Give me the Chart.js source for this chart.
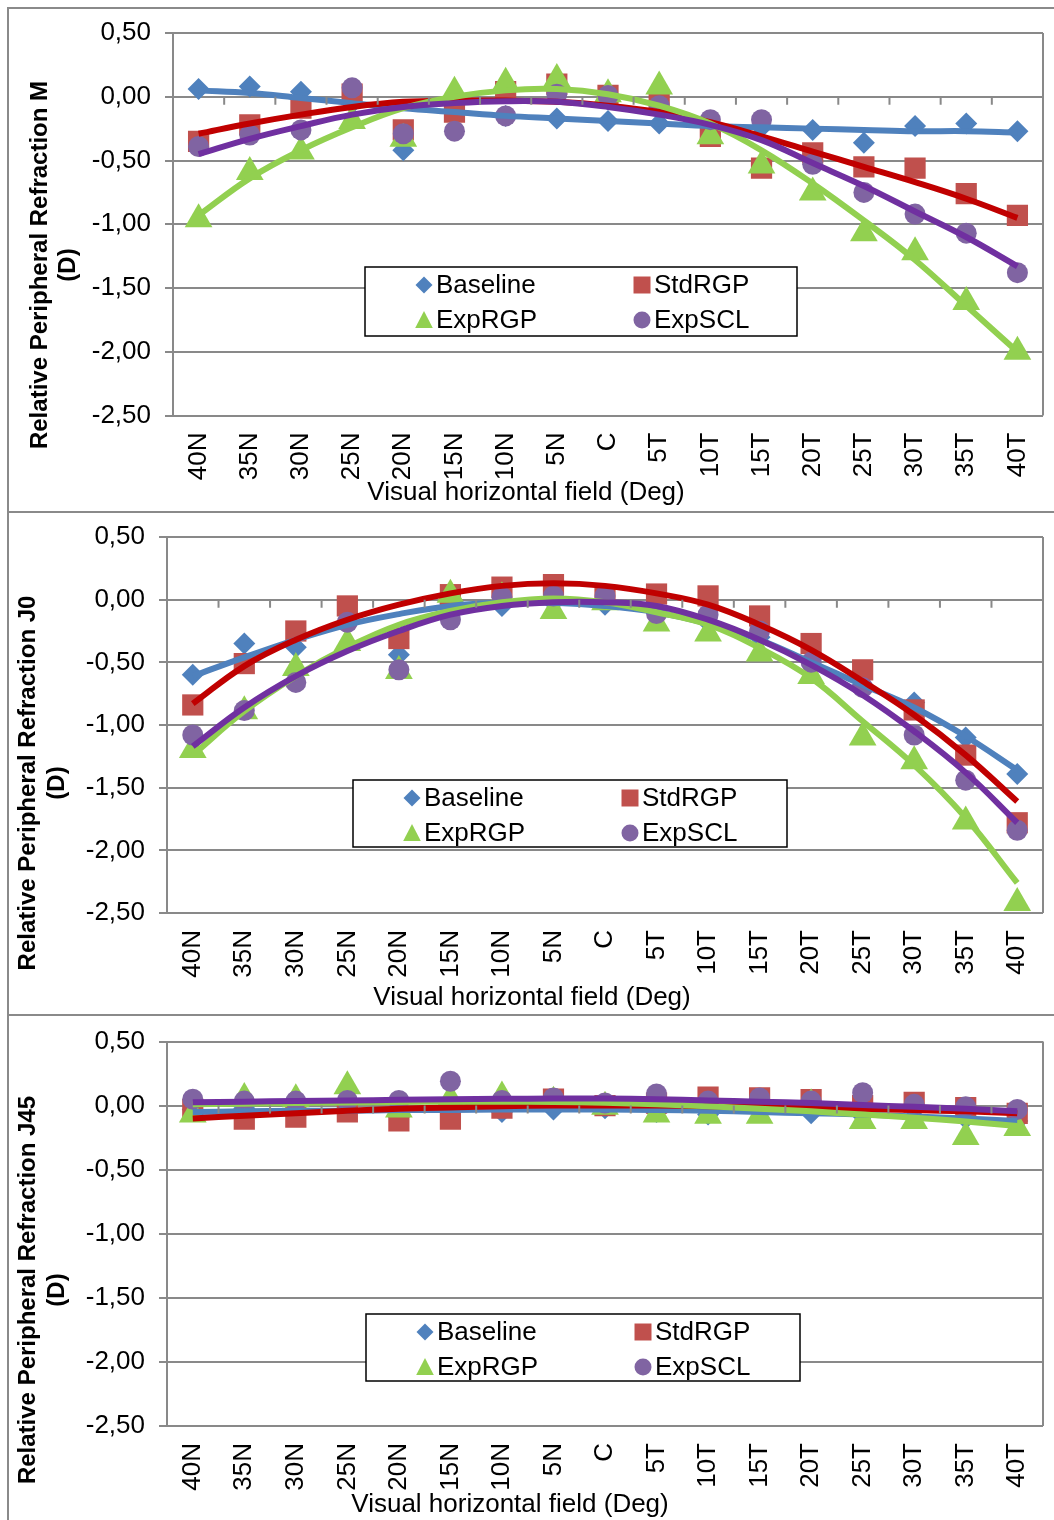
<!DOCTYPE html>
<html>
<head>
<meta charset="utf-8">
<script src="https://cdn.jsdelivr.net/npm/chart.js@4.4.0/dist/chart.umd.min.js"></script>
<style>
  html, body { margin: 0; padding: 0; background: #fff; }
  body { width: 1054px; height: 1520px; position: relative; overflow: hidden; }
  .panel { position: absolute; left: 7px; width: 1100px; border-top: 2px solid #8a8a8a; border-left: 2px solid #8a8a8a; box-sizing: border-box; }
  canvas { position: absolute; left: 0; }
</style>
</head>
<body>
<div class="panel" style="top:7px;height:505px;"></div>
<div class="panel" style="top:511px;height:504px;"></div>
<div class="panel" style="top:1014px;height:520px;"></div>
<canvas id="chartM" width="1059" height="504" style="top:7px"></canvas>
<canvas id="chartJ0" width="1059" height="503" style="top:511px"></canvas>
<canvas id="chartJ45" width="1059" height="506" style="top:1014px"></canvas>
<script>
const fields = ['40N','35N','30N','25N','20N','15N','10N','5N','C','5T','10T','15T','20T','25T','30T','35T','40T'];
const seriesNames = ['Baseline', 'StdRGP', 'ExpRGP', 'ExpSCL'];

// M
const mBaseline = [0.06, 0.08, 0.04, -0.05, -0.42, -0.13, -0.15, -0.17, -0.19, -0.21, -0.22, -0.24, -0.26, -0.36, -0.23, -0.21, -0.27];
const mStdRGP   = [-0.35, -0.22, -0.09, 0.02, -0.26, -0.12, 0.04, 0.10, 0.01, -0.05, -0.31, -0.56, -0.44, -0.55, -0.56, -0.76, -0.93];
const mExpRGP   = [-0.96, -0.59, -0.43, -0.19, -0.33, 0.04, 0.11, 0.14, 0.02, 0.08, -0.31, -0.54, -0.75, -1.07, -1.22, -1.61, -2.00];
const mExpSCL   = [-0.39, -0.30, -0.26, 0.07, -0.29, -0.27, -0.15, 0.02, 0.01, -0.07, -0.18, -0.18, -0.53, -0.75, -0.92, -1.07, -1.38];
const mBaselineFit = [0.05, 0.03, -0.01, -0.05, -0.09, -0.12, -0.15, -0.17, -0.19, -0.21, -0.23, -0.24, -0.25, -0.26, -0.27, -0.27, -0.28];
const mStdRGPFit   = [-0.29, -0.21, -0.14, -0.08, -0.04, -0.03, -0.03, -0.04, -0.07, -0.12, -0.20, -0.31, -0.43, -0.55, -0.67, -0.80, -0.95];
const mExpRGPFit   = [-0.93, -0.64, -0.42, -0.24, -0.09, 0.00, 0.05, 0.06, 0.02, -0.07, -0.21, -0.42, -0.68, -0.97, -1.28, -1.64, -2.00];
const mExpSCLFit   = [-0.45, -0.33, -0.23, -0.14, -0.08, -0.05, -0.035, -0.04, -0.08, -0.14, -0.22, -0.34, -0.52, -0.70, -0.90, -1.10, -1.33];

// J0
const j0Baseline = [-0.60, -0.35, -0.38, -0.17, -0.44, -0.03, -0.05, -0.02, -0.04, -0.08, -0.18, -0.30, -0.48, -0.68, -0.82, -1.10, -1.39];
const j0StdRGP   = [-0.84, -0.51, -0.25, -0.05, -0.31, 0.04, 0.10, 0.12, 0.01, 0.045, 0.03, -0.13, -0.35, -0.56, -0.88, -1.24, -1.78];
const j0ExpRGP   = [-1.20, -0.89, -0.545, -0.345, -0.57, 0.04, 0.02, -0.09, -0.02, -0.19, -0.27, -0.43, -0.61, -1.10, -1.29, -1.77, -2.42];
const j0ExpSCL   = [-1.08, -0.885, -0.66, -0.18, -0.56, -0.16, 0.02, 0.03, 0.03, -0.11, -0.12, -0.25, -0.50, -0.70, -1.08, -1.44, -1.84];
const j0BaselineFit = [-0.61, -0.46, -0.32, -0.20, -0.115, -0.05, -0.025, -0.025, -0.05, -0.10, -0.19, -0.32, -0.50, -0.68, -0.86, -1.09, -1.36];
const j0StdRGPFit   = [-0.83, -0.53, -0.32, -0.16, -0.04, 0.05, 0.11, 0.13, 0.11, 0.05, -0.04, -0.20, -0.40, -0.65, -0.92, -1.24, -1.61];
const j0ExpRGPFit   = [-1.24, -0.89, -0.61, -0.38, -0.20, -0.09, -0.02, 0.01, -0.02, -0.10, -0.20, -0.385, -0.625, -0.97, -1.32, -1.74, -2.26];
const j0ExpSCLFit   = [-1.17, -0.86, -0.61, -0.41, -0.25, -0.12, -0.05, -0.02, -0.02, -0.05, -0.16, -0.32, -0.52, -0.76, -1.05, -1.38, -1.78];

// J45
const j45Baseline = [-0.03, -0.02, -0.03, -0.02, -0.09, -0.03, -0.05, -0.03, -0.02, -0.05, -0.07, -0.04, -0.06, -0.08, -0.09, -0.10, -0.12];
const j45StdRGP   = [-0.03, -0.105, -0.09, -0.05, -0.12, -0.105, -0.02, 0.05, 0.00, 0.02, 0.066, 0.06, 0.047, 0.00, 0.026, -0.016, -0.06];
const j45ExpRGP   = [-0.07, 0.06, 0.05, 0.15, -0.03, 0.05, 0.07, 0.03, -0.01, -0.07, -0.08, -0.08, 0.01, -0.12, -0.12, -0.245, -0.175];
const j45ExpSCL   = [0.05, 0.035, 0.035, 0.04, 0.04, 0.19, 0.04, 0.06, 0.02, 0.09, 0.035, 0.06, 0.035, 0.10, 0.01, -0.01, -0.03];
const j45BaselineFit = [-0.05, -0.045, -0.04, -0.04, -0.035, -0.035, -0.03, -0.03, -0.03, -0.035, -0.04, -0.05, -0.06, -0.07, -0.085, -0.10, -0.12];
const j45StdRGPFit   = [-0.10, -0.08, -0.06, -0.04, -0.025, -0.015, -0.005, 0.00, 0.00, 0.00, -0.005, -0.01, -0.02, -0.025, -0.035, -0.045, -0.06];
const j45ExpRGPFit   = [0.01, 0.015, 0.02, 0.025, 0.028, 0.03, 0.03, 0.028, 0.022, 0.01, -0.005, -0.025, -0.045, -0.07, -0.095, -0.125, -0.16];
const j45ExpSCLFit   = [0.026, 0.03, 0.036, 0.04, 0.045, 0.05, 0.053, 0.055, 0.055, 0.05, 0.04, 0.03, 0.02, 0.005, -0.01, -0.025, -0.045];

const yTicks = [0.5, 0, -0.5, -1, -1.5, -2, -2.5];

const FONT = '"Liberation Sans", Arial, sans-serif';
const GRID = '#898989';
const markerStyles = [
    { shape: 'rectRot', radius: 11, color: '#4F81BD', line: '#4F81BD' },
    { shape: 'rect', radius: 15, color: '#C0504D', line: '#C00000' },
    { shape: 'triangle', radius: 16, color: '#92D050', line: '#92D050' },
    { shape: 'circle', radius: 10.5, color: '#8064A2', line: '#7030A0' }
];

function fmt(v) {
    if (Math.abs(v) < 1e-9) return '0,00';
    return v.toFixed(2).replace('.', ',');
}

function legendMarker(ctx, shape, x, y, color) {
    ctx.fillStyle = color;
    ctx.beginPath();
    if (shape === 'rectRot') {
        const r = 8.5;
        ctx.moveTo(x, y - r); ctx.lineTo(x + r, y); ctx.lineTo(x, y + r); ctx.lineTo(x - r, y);
    } else if (shape === 'rect') {
        ctx.rect(x - 8.5, y - 8.5, 17, 17);
    } else if (shape === 'triangle') {
        ctx.moveTo(x, y - 9); ctx.lineTo(x + 8.8, y + 8); ctx.lineTo(x - 8.8, y + 8);
    } else {
        ctx.arc(x, y, 8.5, 0, Math.PI * 2);
    }
    ctx.closePath();
    ctx.fill();
}

// axis titles, zero axis tick marks, right border and legend box
const decorPlugin = {
    id: 'decor',
    afterDraw(chart, args, opts) {
        const ctx = chart.ctx;
        const area = chart.chartArea;
        const ys = chart.scales.y;
        const n = fields.length;
        ctx.save();
        ctx.strokeStyle = GRID;
        ctx.lineWidth = 2;
        ctx.beginPath();
        ctx.moveTo(area.right, area.top);
        ctx.lineTo(area.right, area.bottom);
        const y0 = ys.getPixelForValue(0);
        for (let i = 1; i < n; i++) {
            const x = area.left + i * (area.right - area.left) / n;
            ctx.moveTo(x, y0);
            ctx.lineTo(x, y0 + 8);
        }
        ctx.stroke();

        ctx.fillStyle = '#000';
        ctx.textAlign = 'center';
        ctx.textBaseline = 'middle';
        ctx.font = '26px ' + FONT;
        ctx.fillText('Visual horizontal field (Deg)', opts.xTitle[0], opts.xTitle[1]);

        ctx.font = 'bold 24px ' + FONT;
        ctx.save();
        ctx.translate(opts.yTitle[0], opts.yTitle[2]);
        ctx.rotate(-Math.PI / 2);
        ctx.fillText(opts.yTitleText, 0, 0);
        ctx.restore();
        ctx.save();
        ctx.translate(opts.yTitle[1], opts.yTitle[2]);
        ctx.rotate(-Math.PI / 2);
        ctx.fillText('(D)', 0, 0);
        ctx.restore();

        const b = opts.legendBox;
        ctx.fillStyle = '#fff';
        ctx.fillRect(b[0], b[1], b[2], b[3]);
        ctx.strokeStyle = '#000';
        ctx.lineWidth = 1.5;
        ctx.strokeRect(b[0], b[1], b[2], b[3]);
        ctx.font = '26px ' + FONT;
        ctx.textAlign = 'left';
        const cols = [b[0] + 59, b[0] + 277];
        const rows = [b[1] + 18, b[1] + 53];
        seriesNames.forEach((name, i) => {
            const mx = cols[i % 2], my = rows[Math.floor(i / 2)];
            legendMarker(ctx, markerStyles[i].shape, mx, my, markerStyles[i].color);
            ctx.fillStyle = '#000';
            ctx.fillText(name, mx + 12, my + 1);
        });
        ctx.restore();
    }
};

function buildPanel(id, values, fits, geo) {
    const datasets = [];
    values.forEach((vals, i) => {
        const s = markerStyles[i];
        datasets.push({
            label: seriesNames[i],
            data: vals,
            showLine: false,
            pointStyle: s.shape,
            pointRadius: s.radius,
            pointBackgroundColor: s.color,
            pointBorderWidth: 0,
            order: 7 - i
        });
    });
    fits.forEach((vals, i) => {
        const s = markerStyles[i];
        datasets.push({
            label: seriesNames[i] + ' trend',
            data: vals,
            borderColor: s.line,
            borderWidth: 6,
            pointRadius: 0,
            tension: 0.4,
            fill: false,
            order: 3 - i
        });
    });

    new Chart(document.getElementById(id), {
        type: 'line',
        data: { labels: fields, datasets },
        plugins: [decorPlugin],
        options: {
            responsive: false,
            animation: false,
            devicePixelRatio: 1,
            layout: { padding: { top: geo.top, right: 5, left: 0, bottom: 0 } },
            plugins: {
                legend: { display: false },
                tooltip: { enabled: false },
                decor: {
                    xTitle: geo.xTitle,
                    yTitle: geo.yTitle,
                    yTitleText: geo.yTitleText,
                    legendBox: geo.legendBox
                }
            },
            scales: {
                x: {
                    offset: true,
                    grid: { display: false, drawTicks: false, tickLength: 0 },
                    border: { display: false },
                    ticks: {
                        autoSkip: false,
                        maxRotation: 90,
                        minRotation: 90,
                        padding: geo.xPad,
                        color: '#000',
                        font: { family: FONT, size: 26 }
                    },
                    afterFit: scale => {
                        scale.height = geo.xHeight;
                        scale.paddingLeft = 0;
                        scale.paddingRight = 0;
                    }
                },
                y: {
                    min: -2.5,
                    max: 0.5,
                    afterBuildTicks: scale => { scale.ticks = yTicks.map(v => ({ value: v })); },
                    grid: { color: GRID, lineWidth: 2, drawTicks: true, tickLength: 8 },
                    border: { display: true, color: GRID, width: 2 },
                    ticks: {
                        padding: 14,
                        color: '#000',
                        font: { family: FONT, size: 26 },
                        callback: v => fmt(v)
                    },
                    afterFit: scale => {
                        scale.width = geo.left;
                        scale.paddingTop = 0;
                        scale.paddingBottom = 0;
                    }
                }
            }
        }
    });
}

buildPanel('chartM',
    [mBaseline, mStdRGP, mExpRGP, mExpSCL],
    [mBaselineFit, mStdRGPFit, mExpRGPFit, mExpSCLFit],
    { top: 26, left: 173, xHeight: 95.5, xPad: 17, xTitle: [526, 486], yTitle: [40, 68, 258], yTitleText: 'Relative Peripheral Refraction M', legendBox: [365, 260, 432, 69] });

buildPanel('chartJ0',
    [j0Baseline, j0StdRGP, j0ExpRGP, j0ExpSCL],
    [j0BaselineFit, j0StdRGPFit, j0ExpRGPFit, j0ExpSCLFit],
    { top: 26, left: 167, xHeight: 101, xPad: 17, xTitle: [532, 487], yTitle: [28, 57, 272], yTitleText: 'Relative Peripheral Refraction J0', legendBox: [353, 269, 434, 67] });

buildPanel('chartJ45',
    [j45Baseline, j45StdRGP, j45ExpRGP, j45ExpSCL],
    [j45BaselineFit, j45StdRGPFit, j45ExpRGPFit, j45ExpSCLFit],
    { top: 27.5, left: 167, xHeight: 94, xPad: 17, xTitle: [510, 491], yTitle: [28, 57, 276], yTitleText: 'Relative Peripheral Refraction J45', legendBox: [366, 300, 434, 67] });
</script>
</body>
</html>
